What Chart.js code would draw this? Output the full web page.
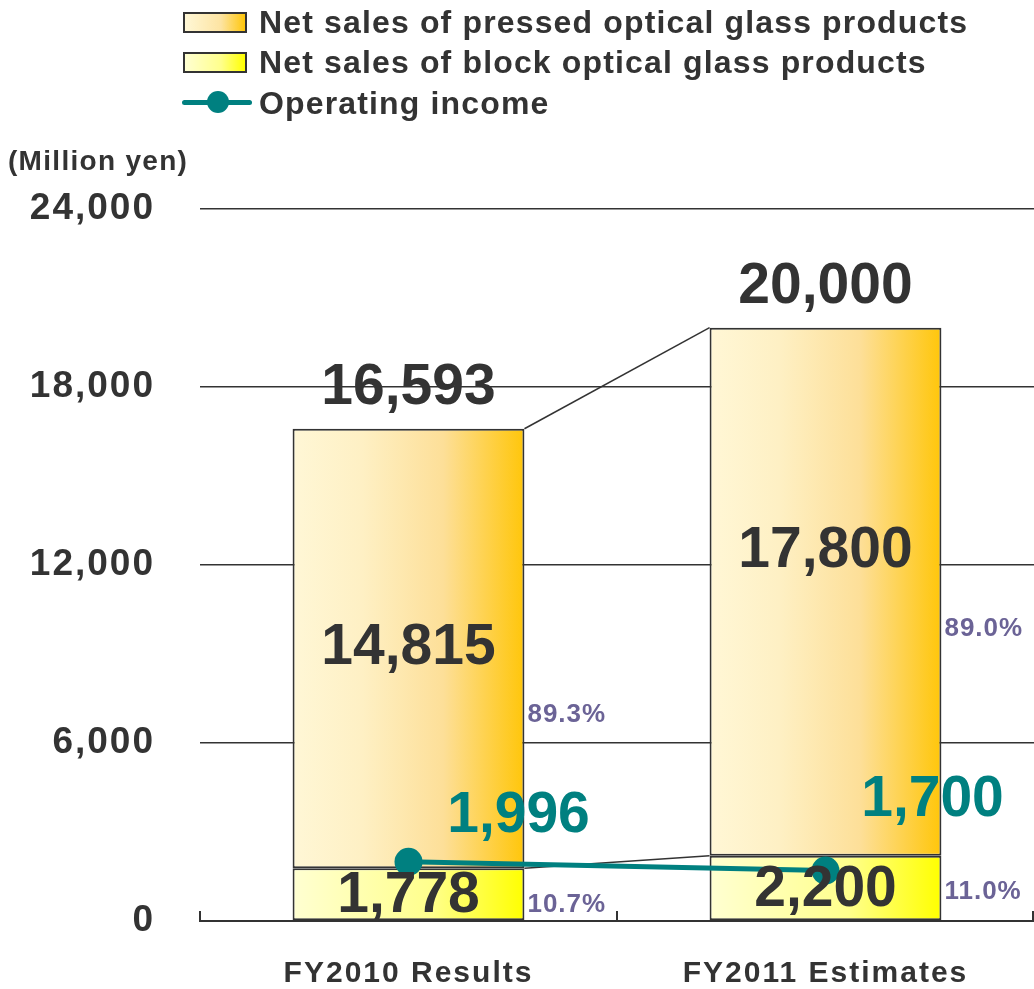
<!DOCTYPE html>
<html>
<head>
<meta charset="utf-8">
<script src="https://cdn.jsdelivr.net/npm/chart.js@4.4.1/dist/chart.umd.min.js"></script>
<style>
  html, body { margin: 0; padding: 0; background: #fff; }
  #wrap { position: relative; width: 1034px; height: 989px; font-family: "Liberation Sans", Arial, sans-serif; font-weight: bold; color: #333; }
  #chart { position: absolute; left: 0; top: 0; }
  .leg { position: absolute; left: 259px; font-size: 32px; letter-spacing: 1.15px; line-height: 1; white-space: nowrap; }
  .box { position: absolute; left: 183px; width: 60px; height: 17px; border: 2px solid #333; }
  .unit { position: absolute; left: 8px; top: 145px; font-size: 28px; letter-spacing: 1.3px; white-space: nowrap; }
</style>
</head>
<body>
<div id="wrap">
  <canvas id="chart" width="1034" height="989"></canvas>
  <div class="box" style="top:12px;background:linear-gradient(to right,#fff7d6,#fde4a2 60%,#ffc60a);"></div>
  <div class="leg" style="top:6px;">Net sales of pressed optical glass products</div>
  <div class="box" style="top:52px;background:linear-gradient(to right,#ffffd2,#ffff8c 60%,#ffff00);"></div>
  <div class="leg" style="top:46px;">Net sales of block optical glass products</div>
  <div style="position:absolute;left:182px;top:100px;width:70px;height:5px;background:#008080;border-radius:3px;"></div>
  <div style="position:absolute;left:207px;top:91px;width:22px;height:22px;background:#008080;border-radius:50%;"></div>
  <div class="leg" style="top:87px;">Operating income</div>
  <div class="unit">(Million yen)</div>
</div>
<script>
// values (million yen)
const categories = ['FY2010 Results', 'FY2011 Estimates'];
const blockSales = [1778, 2200];
const pressedSales = [14815, 17800];
const operatingIncome = [1996, 1700];
const yTicks = [0, 6000, 12000, 18000, 24000];

const BAR_FRAC = 0.556;
const FONT = '"Liberation Sans", Arial, sans-serif';
const TEAL = '#008080';
const INK = '#333333';

// horizontal gradient across each bar, positioned from the x scale
function barFill(stops) {
  return (c) => {
    const chart = c.chart;
    const xs = chart.scales.x;
    if (!xs || !chart.chartArea || c.dataIndex === undefined) return stops[stops.length - 1][1];
    const cx = xs.getPixelForValue(c.dataIndex);
    const half = xs.width / categories.length * BAR_FRAC / 2;
    const g = chart.ctx.createLinearGradient(cx - half, 0, cx + half, 0);
    stops.forEach(s => g.addColorStop(s[0], s[1]));
    return g;
  };
}

// the axis labels in the original are set a little wide
const spacing = {
  id: 'spacing',
  beforeDraw(chart) { chart.ctx.letterSpacing = '2px'; },
  afterDraw(chart) { chart.ctx.letterSpacing = '0px'; }
};

const notes = {
  id: 'notes',
  beforeDatasetsDraw(chart) {
    // thin connectors between the two bars
    const ctx = chart.ctx;
    const b = chart.getDatasetMeta(0).data;
    const p = chart.getDatasetMeta(1).data;
    ctx.save();
    ctx.strokeStyle = INK;
    ctx.lineWidth = 1.5;
    [[p[0], p[1]], [b[0], b[1]]].forEach(([a, z]) => {
      ctx.beginPath();
      ctx.moveTo(a.x + a.width / 2, a.y);
      ctx.lineTo(z.x - z.width / 2, z.y);
      ctx.stroke();
    });
    ctx.restore();
  },
  afterDatasetsDraw(chart, args, opts) {
    const ctx = chart.ctx;
    const xs = chart.scales.x;
    const ys = chart.scales.y;
    const b = chart.getDatasetMeta(0).data;
    const p = chart.getDatasetMeta(1).data;
    const l = chart.getDatasetMeta(2).data;
    ctx.save();
    // inward ticks on the category axis
    ctx.strokeStyle = INK;
    ctx.lineWidth = 2;
    for (let i = 0; i <= categories.length; i++) {
      const x = Math.round(xs.left + i * xs.width / categories.length) - (i === categories.length ? 1 : 0);
      ctx.beginPath();
      ctx.moveTo(x, ys.bottom);
      ctx.lineTo(x, ys.bottom - 10);
      ctx.stroke();
    }
    ctx.textAlign = 'center';
    ctx.textBaseline = 'middle';
    const big = 'bold 57px ' + FONT;
    const pct = 'bold 26px ' + FONT;
    categories.forEach((cat, i) => {
      const total = blockSales[i] + pressedSales[i];
      const bb = b[i], pb = p[i];
      const right = pb.x + pb.width / 2;
      ctx.letterSpacing = '0px';
      ctx.fillStyle = INK;
      ctx.font = big;
      ctx.fillText(total.toLocaleString('en-US'), pb.x, pb.y - 40);
      ctx.fillText(pressedSales[i].toLocaleString('en-US'), pb.x, (pb.y + bb.y) / 2 + opts.pressShift[i]);
      ctx.fillText(blockSales[i].toLocaleString('en-US'), bb.x, (bb.y + bb.base) / 2 + 2);
      ctx.fillStyle = TEAL;
      ctx.fillText(operatingIncome[i].toLocaleString('en-US'), l[i].x + opts.incomeDx[i], l[i].y + opts.incomeDy[i]);
      ctx.letterSpacing = '1px';
      ctx.fillStyle = '#6b6396';
      ctx.font = pct;
      ctx.textAlign = 'left';
      ctx.fillText((pressedSales[i] / total * 100).toFixed(1) + '%', right + 3, (pb.y + bb.y) / 2 + opts.pctShift[i]);
      ctx.fillText((blockSales[i] / total * 100).toFixed(1) + '%', right + 3, (bb.y + bb.base) / 2 + opts.blockPctShift[i]);
      ctx.textAlign = 'center';
    });
    ctx.restore();
  }
};

new Chart(document.getElementById('chart'), {
  data: {
    labels: categories,
    datasets: [
      {
        type: 'bar',
        label: 'Net sales of block optical glass products',
        data: blockSales,
        stack: 'sales',
        order: 1,
        backgroundColor: barFill([[0, '#ffffd2'], [0.6, '#ffff8c'], [1, '#ffff00']]),
        borderColor: INK,
        borderWidth: 2,
        borderSkipped: false,
        categoryPercentage: 1,
        barPercentage: BAR_FRAC
      },
      {
        type: 'bar',
        label: 'Net sales of pressed optical glass products',
        data: pressedSales,
        stack: 'sales',
        order: 1,
        backgroundColor: barFill([[0, '#fff7d6'], [0.3, '#fef0c4'], [0.65, '#fddf98'], [1, '#ffc60a']]),
        borderColor: INK,
        borderWidth: 2,
        borderSkipped: false,
        categoryPercentage: 1,
        barPercentage: BAR_FRAC
      },
      {
        type: 'line',
        label: 'Operating income',
        data: operatingIncome,
        stack: 'income',
        order: 0,
        borderColor: TEAL,
        backgroundColor: TEAL,
        borderWidth: 5,
        pointRadius: 14,
        pointBorderWidth: 0,
        pointBackgroundColor: TEAL,
        clip: false
      }
    ]
  },
  options: {
    responsive: false,
    animation: false,
    devicePixelRatio: 1,
    layout: { autoPadding: false, padding: { top: 209, right: 0, left: 0, bottom: 0 } },
    plugins: {
      legend: { display: false },
      tooltip: { enabled: false },
      notes: {
        pressShift: [0, -40],
        pctShift: [66, 37],
        blockPctShift: [11, 4],
        incomeDx: [110, 107],
        incomeDy: [-46, -70]
      }
    },
    scales: {
      x: {
        stacked: true,
        grid: { display: false },
        border: { display: true, color: INK, width: 2 },
        ticks: { color: INK, font: { family: FONT, size: 30, weight: 'bold' }, padding: 27 },
        afterFit: (s) => { s.height = 68; }
      },
      y: {
        stacked: true,
        min: 0,
        max: 24000,
        afterBuildTicks: (s) => { s.ticks = yTicks.map(v => ({ value: v })); },
        grid: { color: INK, lineWidth: 1.5, drawTicks: false },
        border: { display: false },
        ticks: {
          color: INK,
          padding: 45,
          font: { family: FONT, size: 37, weight: 'bold' },
          callback: (v) => v.toLocaleString('en-US')
        },
        afterFit: (s) => { s.width = 200; }
      }
    }
  },
  plugins: [spacing, notes]
});
</script>
</body>
</html>
